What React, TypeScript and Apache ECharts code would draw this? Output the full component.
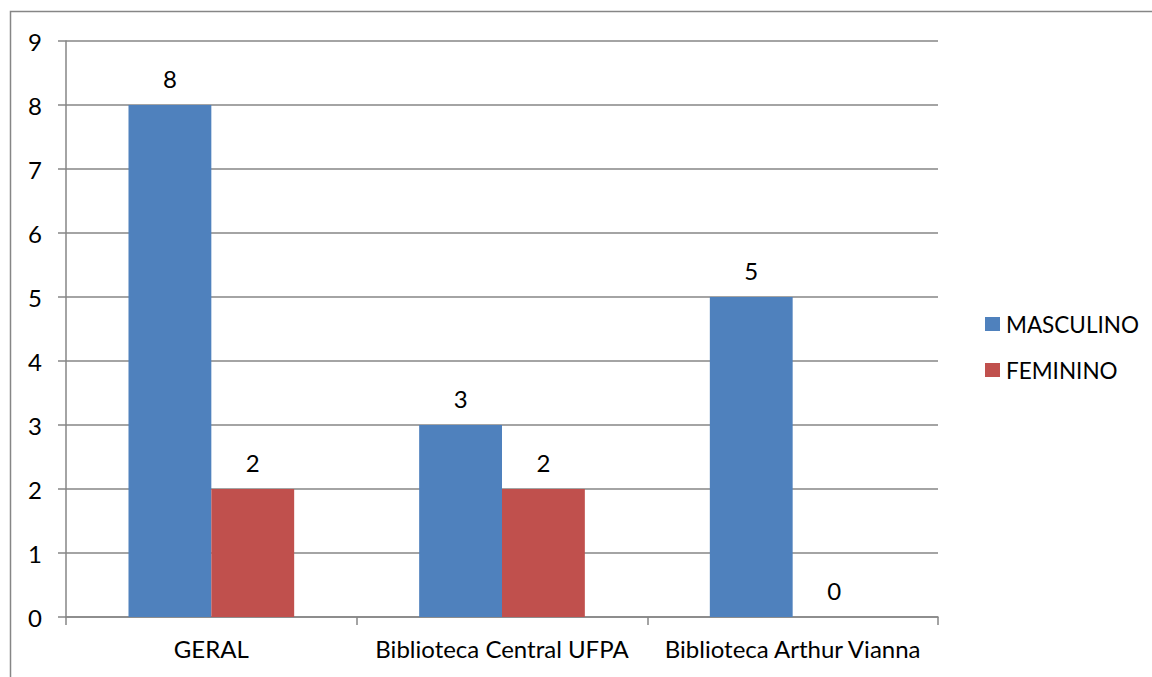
import React, { useEffect, useRef } from "react";
import * as echarts from "echarts";

const categories = ["GERAL", "Biblioteca Central UFPA", "Biblioteca Arthur Vianna"];
const masculino = [8, 3, 5];
const feminino = [2, 2, 0];
const seriesNames = ["MASCULINO", "FEMININO"];
const yMin = 0;
const yMax = 9;
const yInterval = 1;

const FONT = "Lato";
const FS = 24;
const GRAY = "#868686";

export default function App() {
  const ref = useRef<HTMLDivElement>(null);
  useEffect(() => {
    if (!ref.current) return;
    const chart = echarts.init(ref.current, null, { renderer: "svg" });
    const label = {
      show: true,
      position: "top",
      distance: 15,
      color: "#000",
      fontFamily: FONT,
      fontSize: FS,
    };
    chart.setOption({
      animation: false,
      backgroundColor: "#fff",
      textStyle: { fontFamily: FONT },
      graphic: [
        {
          type: "rect",
          shape: { x: 10.5, y: 11.5, width: 1300, height: 800 },
          style: { fill: "none", stroke: GRAY, lineWidth: 1.5 },
          silent: true,
        },
      ],
      grid: { left: 66, right: 214, top: 41, bottom: 60, containLabel: false },
      legend: {
        orient: "vertical",
        left: 980,
        top: 304,
        itemWidth: 15,
        itemHeight: 14,
        itemGap: 16,
        icon: "rect",
        textStyle: { color: "#000", fontFamily: FONT, fontSize: 22.5, lineHeight: 30, padding: [0, 0, 0, 1] },
        data: seriesNames,
      },
      xAxis: {
        type: "category",
        data: categories,
        axisLine: { show: true, lineStyle: { color: GRAY, width: 1.5 } },
        axisTick: { show: true, length: 8, alignWithLabel: false, lineStyle: { color: GRAY, width: 1.5 } },
        axisLabel: { color: "#000", fontFamily: FONT, fontSize: FS, margin: 19, interval: 0 },
        splitLine: { show: false },
      },
      yAxis: {
        type: "value",
        min: yMin,
        max: yMax,
        interval: yInterval,
        axisLine: { show: true, lineStyle: { color: GRAY, width: 1.5 } },
        axisTick: { show: true, length: 8, lineStyle: { color: GRAY, width: 1.5 } },
        axisLabel: { color: "#000", fontFamily: FONT, fontSize: FS, margin: 24 },
        splitLine: { show: true, lineStyle: { color: GRAY, width: 1.5 } },
      },
      series: [
        {
          name: seriesNames[0],
          type: "bar",
          data: masculino,
          barGap: "0%",
          barCategoryGap: "43%",
          itemStyle: { color: "#4F81BD" },
          label,
        },
        {
          name: seriesNames[1],
          type: "bar",
          data: feminino,
          barGap: "0%",
          barCategoryGap: "43%",
          itemStyle: { color: "#C0504D" },
          label,
        },
      ],
    });
    return () => chart.dispose();
  }, []);
  return (
    <div
      ref={ref}
      style={{ position: "fixed", left: 0, top: 0, width: 1152, height: 677 }}
    />
  );
}
